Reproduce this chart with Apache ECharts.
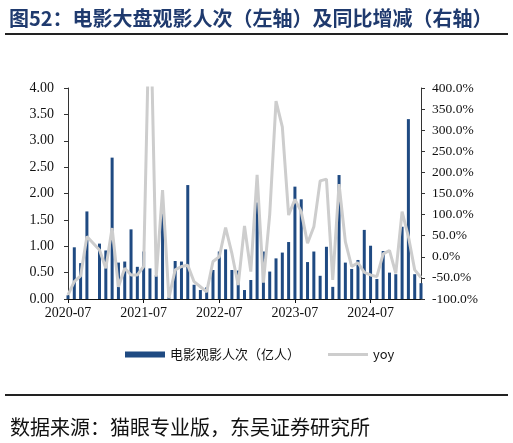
<!DOCTYPE html>
<html>
<head>
<meta charset="utf-8">
<script src="https://cdn.jsdelivr.net/npm/echarts@6/dist/echarts.min.js"></script>
<style>
html,body{margin:0;padding:0;background:#fff;}
#c{width:513px;height:443px;}
</style>
</head>
<body>
<div id="c"></div>
<script>
var categories = [
 '2020-07','2020-08','2020-09','2020-10','2020-11','2020-12',
 '2021-01','2021-02','2021-03','2021-04','2021-05','2021-06',
 '2021-07','2021-08','2021-09','2021-10','2021-11','2021-12',
 '2022-01','2022-02','2022-03','2022-04','2022-05','2022-06',
 '2022-07','2022-08','2022-09','2022-10','2022-11','2022-12',
 '2023-01','2023-02','2023-03','2023-04','2023-05','2023-06',
 '2023-07','2023-08','2023-09','2023-10','2023-11','2023-12',
 '2024-01','2024-02','2024-03','2024-04','2024-05','2024-06',
 '2024-07','2024-08','2024-09','2024-10','2024-11','2024-12',
 '2025-01','2025-02','2025-03'
];
var admissions = [
 0.07,0.98,0.68,1.66,null,1.05,
 0.92,2.68,0.69,0.71,1.32,0.61,
 0.90,0.58,0.45,1.62,0.04,0.72,
 0.71,2.16,0.27,0.17,0.22,0.55,
 0.90,0.94,0.55,0.54,0.17,0.36,
 1.83,0.90,0.52,0.77,0.88,1.08,
 2.13,1.89,0.70,0.90,0.44,0.99,
 0.23,2.35,0.69,0.57,0.74,1.31,
 1.01,0.38,0.91,0.50,0.47,1.37,
 3.41,0.47,0.30
];
var yoy = [
 -90,-59,-45,48,null,16,
 -27,68,-71,-27,-43,-43,
 -23,650,-47,158,-98,-31,
 -23,-20,-59,-71,-83,-11,
 0,69,8,-67,73,-35,
 194,-61,100,369,308,99,
 136,107,32,71,180,184,
 -55,172,36,-23,-14,-37,
 -43,-47,7,15,-39,107,
 48,-31,-49
];
var titleText = '图52：电影大盘观影人次（左轴）及同比增减（右轴）';
var sourceText = '数据来源：猫眼专业版，东吴证券研究所';
var barName = '电影观影人次（亿人）';
var lineName = 'yoy';

var chart = echarts.init(document.getElementById('c'), null, {renderer:'canvas'});
var serif = '"Liberation Serif","Times New Roman",serif';
var cjk = '"Noto Sans CJK SC","Noto Sans",sans-serif';
chart.setOption({
  animation:false,
  backgroundColor:'#fff',
  title:{
    text:titleText, left:4, top:3,
    textStyle:{fontSize:20, fontWeight:'bold', color:'#1f3a6e', fontFamily:cjk}
  },
  graphic:[
    {type:'rect', shape:{x:5,y:33,width:503,height:2}, style:{fill:'#222'}},
    {type:'rect', shape:{x:5,y:394,width:503,height:2}, style:{fill:'#222'}},
    {type:'text', left:10, top:417, style:{text:sourceText, font:'20px '+cjk, fill:'#111'}}
  ],
  legend:{
    left:120, top:343, itemGap:28, itemWidth:40, itemHeight:6,
    textStyle:{fontSize:13, fontFamily:cjk, color:'#111'},
    data:[
      {name:barName, icon:'rect'},
      {name:lineName, icon:'path://M0,0L40,0L40,3L0,3Z', itemStyle:{color:'#cdcdcd'}}
    ]
  },
  grid:{left:68, right:92, top:88, bottom:144, containLabel:false},
  xAxis:{
    type:'category', data:categories, boundaryGap:false,
    axisLine:{lineStyle:{color:'#111', width:1.2}},
    axisTick:{show:true, interval:11, length:4, lineStyle:{color:'#111'}},
    axisLabel:{interval:11, margin:7, fontSize:14, fontFamily:serif, color:'#111'}
  },
  yAxis:[
    {type:'value', min:0, max:4, interval:0.5, position:'left',
     axisLine:{show:true, lineStyle:{color:'#333'}},
     axisTick:{show:true, length:4, lineStyle:{color:'#333'}},
     splitLine:{show:false},
     axisLabel:{margin:14, fontSize:14, fontFamily:serif, color:'#111',
       formatter:function(v){return v.toFixed(2);}}
    },
    {type:'value', min:-100, max:400, interval:50, position:'right',
     axisLine:{show:true, lineStyle:{color:'#333'}},
     axisTick:{show:true, length:4, lineStyle:{color:'#333'}},
     splitLine:{show:false},
     axisLabel:{margin:11, fontSize:13.5, fontFamily:serif, color:'#111',
       formatter:function(v){return v.toFixed(1)+'%';}}
    }
  ],
  series:[
    {name:barName, type:'bar', yAxisIndex:0, data:admissions, barWidth:3,
     itemStyle:{color:'#1f4a82'}},
    {name:lineName, type:'line', yAxisIndex:1, data:yoy, connectNulls:true,
     symbol:'none', clip:true, lineStyle:{color:'#cdcdcd', width:3},
     itemStyle:{color:'#cdcdcd'}}
  ]
});
</script>
</body>
</html>
